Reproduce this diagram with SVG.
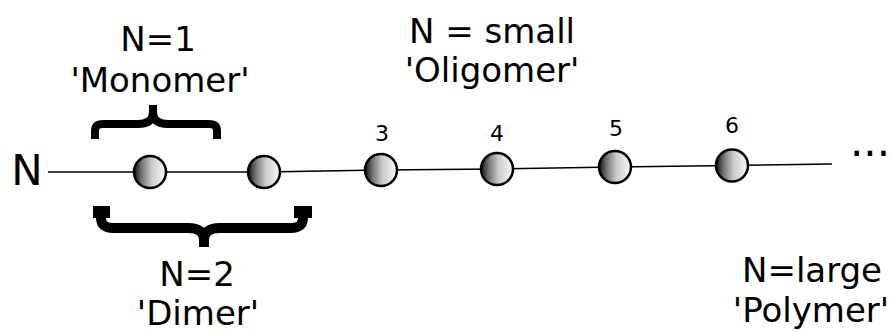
<svg xmlns="http://www.w3.org/2000/svg" width="890" height="332" viewBox="0 0 890 332">
<style>
.t{font-family:"DejaVu Sans",sans-serif;fill:#000;text-anchor:middle}
.lbl{font-size:34px}
.num{font-size:22px}
.ball{fill:url(#g);stroke:#000;stroke-width:2.5}
.brace{fill:none;stroke:#000;stroke-linejoin:round}
</style>
<defs>
<linearGradient id="g" x1="0" y1="0" x2="1" y2="0">
<stop offset="0" stop-color="#111"/>
<stop offset="0.25" stop-color="#777"/>
<stop offset="0.55" stop-color="#cbcbcb"/>
<stop offset="1" stop-color="#fafafa"/>
</linearGradient>
</defs>
<g id="connectors">
<polyline points="48,172 150,172 264,172 381,170 497,169 615,167 732,165.5 832,164" fill="none" stroke="#000" stroke-width="1.4"/>
</g>
<g id="label-N"><text class="t" x="27" y="185" font-size="42">N</text></g>
<g id="ball1"><circle class="ball" cx="150" cy="172" r="16"/></g>
<g id="ball2"><circle class="ball" cx="264" cy="172" r="16"/></g>
<g id="ball3"><circle class="ball" cx="381" cy="170" r="16"/><text class="t num" x="382" y="141">3</text></g>
<g id="ball4"><circle class="ball" cx="497" cy="169" r="16"/><text class="t num" x="497" y="141">4</text></g>
<g id="ball5"><circle class="ball" cx="615" cy="167" r="16"/><text class="t num" x="616" y="136">5</text></g>
<g id="ball6"><circle class="ball" cx="732" cy="165.5" r="16"/><text class="t num" x="732" y="133">6</text></g>
<g id="ellipsis"><text x="850" y="156" font-family="DejaVu Sans,sans-serif" font-size="42">...</text></g>
<g id="monomer">
<path class="brace" stroke-width="8" d="M95 139 V131 Q95 124 103 124 H138 Q153 124 153 112 V105 M153 105 V112 Q153 124 168 124 H209 Q217 124 217 131 V139"/>
<text class="t lbl" x="158" y="51">N=1</text>
<text class="t lbl" x="160" y="92">'Monomer'</text>
</g>
<g id="dimer">
<path class="brace" stroke-width="10" d="M101 206 V218 Q101 228 113 228 H188 Q204 228 204 240 V247 M204 247 V240 Q204 228 220 228 H291 Q303 228 303 218 V206"/>
<path d="M93 206 H110 V218 H93 Z M294 206 H312 V218 H294 Z" fill="#000"/>
<text class="t lbl" x="197" y="286">N=2</text>
<text class="t lbl" x="198" y="325">'Dimer'</text>
</g>
<g id="oligomer">
<text class="t lbl" x="492" y="43">N = small</text>
<text class="t lbl" x="492" y="82">'Oligomer'</text>
</g>
<g id="polymer">
<text class="t lbl" x="812" y="282">N=large</text>
<text class="t lbl" x="811" y="322">'Polymer'</text>
</g>
</svg>
